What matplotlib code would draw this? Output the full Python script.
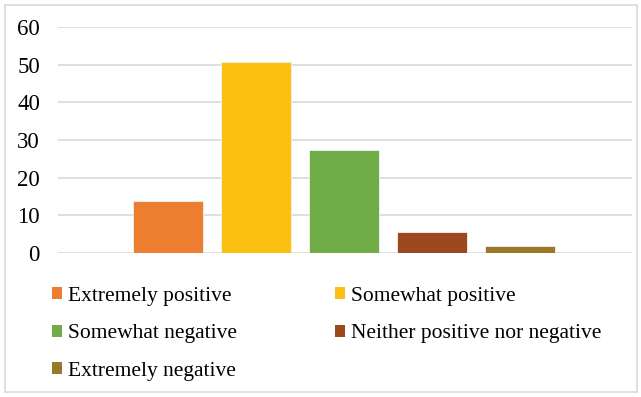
import matplotlib
matplotlib.use("Agg")
import matplotlib.pyplot as plt
from matplotlib.patches import Rectangle, Patch

# Survey response shares (percent)
labels = ["Extremely positive", "Somewhat positive", "Somewhat negative",
          "Neither positive nor negative", "Extremely negative"]
values = [13.7, 50.8, 27.4, 5.6, 1.8]
colors = ["#ED7D31", "#FBC012", "#70AD47", "#9E4820", "#9B7729"]
yticks = [0, 10, 20, 30, 40, 50, 60]

plt.rcParams['font.family'] = ['Liberation Serif', 'DejaVu Serif']

W, H = 641, 397
fig = plt.figure(figsize=(W / 100, H / 100), dpi=100)

# light frame around the whole chart area
fig.patches.append(Rectangle((5 / W, 5 / H), 632 / W, 387 / H,
                             transform=fig.transFigure, fill=False,
                             edgecolor="#D9D9D9", linewidth=1.2))

ax = fig.add_axes([58 / W, 1 - 253 / H, 574 / W, 226 / H])
x = list(range(len(values)))
ax.bar(x, values, width=0.79, color=colors, edgecolor="#F2F2F2",
       linewidth=0.6, zorder=3)

ax.set_xlim(-1.25, 5.27)
ax.set_ylim(0, 60)
ax.set_yticks(yticks)
ax.set_yticklabels([str(t) for t in yticks], fontsize=16.5)
ax.set_xticks([])
ax.tick_params(axis='y', length=0, pad=13)
ax.grid(axis='y', color="#D9D9D9", linewidth=1.2, zorder=0)
for s in ax.spines.values():
    s.set_visible(False)

# legend laid out row by row, two columns
handles = [Patch(facecolor=c, edgecolor='none') for c in colors]
order = [0, 2, 4, 1, 3]
fig.legend([handles[i] for i in order], [labels[i] for i in order],
           ncol=2, loc='upper left', bbox_to_anchor=(52 / W, 1 - 287 / H),
           frameon=False, fontsize=15.5, handlelength=0.47, handleheight=0.47,
           handletextpad=0.27, columnspacing=4.55, labelspacing=0.85,
           borderpad=0, borderaxespad=0)

fig.savefig("out.png", dpi=100)
